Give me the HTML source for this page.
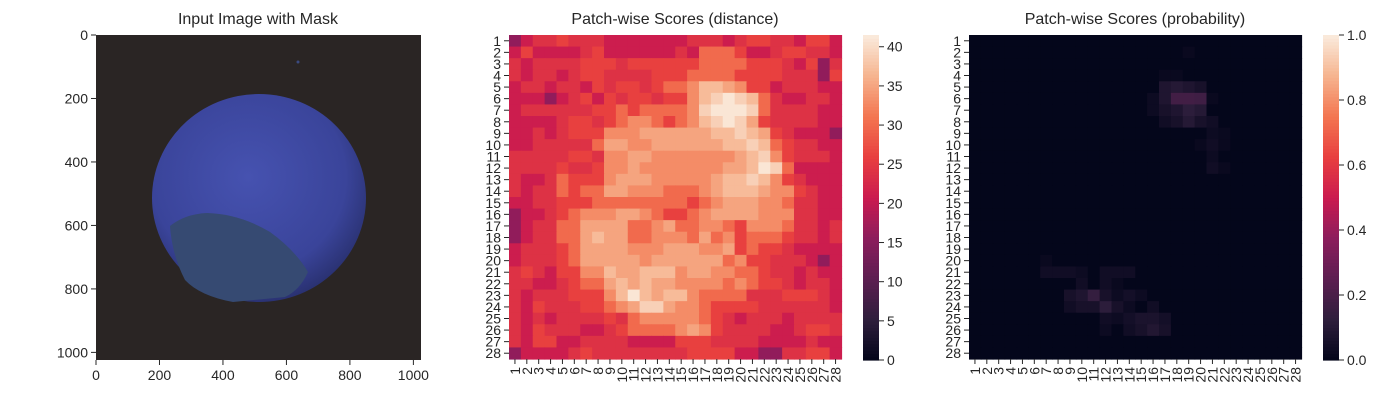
<!DOCTYPE html>
<html><head><meta charset="utf-8"><style>
body{margin:0;background:#fff;font-family:"Liberation Sans",sans-serif;}
svg text{font-family:"Liberation Sans",sans-serif;fill:#262626;}
</style></head><body>
<svg id="fig" width="1400" height="400" xmlns="http://www.w3.org/2000/svg">
<rect width="1400" height="400" fill="#fff"/>
<defs>
<radialGradient id="nutg" cx="0.45" cy="0.4" r="0.65">
<stop offset="0" stop-color="#4652b0"/><stop offset="0.7" stop-color="#3a449a"/><stop offset="1" stop-color="#262d68"/>
</radialGradient>
</defs>
<g id="p1">
<text x="258" y="24" font-size="16" text-anchor="middle">Input Image with Mask</text>
<rect x="96" y="35" width="325" height="325" fill="#2a2524"/>
<ellipse cx="259" cy="198" rx="107" ry="104" fill="url(#nutg)"/>
<path d="M170,226 Q185,214 207,213 Q240,214 270,232 Q295,250 308,272 Q300,290 285,297 L233,302 Q200,296 185,280 Q172,255 170,226 Z" fill="#364a72"/>
<ellipse cx="298" cy="62" rx="1.5" ry="1.5" fill="#3a4a80"/>
<g id="ax1"></g>
</g>
<g id="p2">
<text x="675" y="24" font-size="16" text-anchor="middle">Patch-wise Scores (distance)</text>
<g id="hm2"></g><g id="cb2"></g>
</g>
<g id="p3">
<text x="1135" y="24" font-size="16" text-anchor="middle">Patch-wise Scores (probability)</text>
<g id="hm3"></g><g id="cb3"></g>
</g>
</svg>
<script>
const imgTicks=[0,200,400,600,800,1000];
const distLevels=[16,21,24,26,30,33,35,37,39,41];
const distRows=[
"0122322211111112221233221331",
"1311112311111121444311233221",
"2122223332333333444433321302",
"2122123322223334444333322203",
"1221221323323445776533122211",
"1110123132332335789874211221",
"1222222334344445899984222211",
"1111233234554345789863222211",
"1121233355566666677876321110",
"1122222466556666667787432211",
"2222233255665555555678532221",
"2222322355655555556679841111",
"2112433356665555567787532111",
"2122434466555444567776553211",
"1122333444444443456665542211",
"0112345556654334566665552211",
"0122446666445644554355542212",
"0122446766445554645344432212",
"1222346666555666556343321111",
"1222346666656666664533222101",
"2321335576677756655443221211",
"2211234467676655554543321221",
"2122233357976775444422233321",
"2132223345688655433332222221",
"2121222232455555432122212222",
"2132221123444456532222112332",
"2133112222111133322221111211",
"0111123222222223333110022331"];
const distTicks=[0,5,10,15,20,25,30,35,40];
const distMax=41.5;
const probCells=[[2,19,0.02],[4,17,0.02],[4,18,0.02],[5,17,0.08],[5,18,0.1],[5,19,0.08],[5,20,0.06],[6,16,0.03],[6,17,0.08],[6,18,0.18],[6,19,0.18],[6,20,0.17],[6,21,0.02],[7,16,0.03],[7,17,0.06],[7,18,0.08],[7,19,0.12],[7,20,0.1],[8,17,0.04],[8,18,0.06],[8,19,0.1],[8,20,0.06],[8,21,0.04],[9,21,0.03],[9,22,0.02],[10,20,0.02],[10,21,0.04],[10,22,0.02],[11,21,0.03],[12,21,0.04],[12,22,0.02],[20,7,0.02],[21,7,0.04],[21,8,0.04],[21,9,0.04],[21,10,0.03],[21,12,0.04],[21,13,0.04],[21,14,0.04],[22,10,0.04],[22,12,0.04],[22,13,0.02],[23,9,0.06],[23,10,0.08],[23,11,0.14],[23,12,0.06],[23,13,0.03],[23,14,0.05],[23,15,0.03],[24,9,0.04],[24,10,0.06],[24,11,0.06],[24,12,0.12],[24,13,0.06],[24,14,0.03],[24,16,0.04],[25,12,0.04],[25,13,0.03],[25,14,0.05],[25,15,0.07],[25,16,0.07],[25,17,0.05],[26,12,0.03],[26,14,0.04],[26,15,0.06],[26,16,0.09],[26,17,0.06]];
const probTicks=[0,0.2,0.4,0.6,0.8,1.0];
const probLabels=["0.0","0.2","0.4","0.6","0.8","1.0"];
const labels28=Array.from({length:28},(_,i)=>String(i+1));

const NS="http://www.w3.org/2000/svg";
function mk(p,t,a){const e=document.createElementNS(NS,t);for(const k in a)e.setAttribute(k,a[k]);p.appendChild(e);return e;}
const stops=[[0,[3,5,26]],[0.125,[46,30,60]],[0.25,[92,30,81]],[0.375,[140,28,92]],[0.5,[203,27,79]],[0.625,[232,63,63]],[0.75,[243,118,81]],[0.875,[246,180,143]],[1,[250,235,221]]];
function rocket(t){t=Math.max(0,Math.min(1,t));for(let i=1;i<stops.length;i++){if(t<=stops[i][0]){const a=stops[i-1],b=stops[i],f=(t-a[0])/(b[0]-a[0]);const c=a[1].map((v,j)=>Math.round(v+(b[1][j]-v)*f));return `rgb(${c})`;}}return 'rgb(250,235,221)';}

const FS=14;
const ax1=document.getElementById('ax1');
const ix=v=>96+v*325/1024, iy=v=>35+v*325/1024;
imgTicks.forEach(v=>{
 let l=mk(ax1,'line',{x1:ix(v),x2:ix(v),y1:360,y2:365,stroke:'#262626'});
 
 let t=mk(ax1,'text',{x:ix(v),y:380,'text-anchor':'middle','font-size':FS});t.textContent=v;
 
 l=mk(ax1,'line',{x1:91,x2:96,y1:iy(v),y2:iy(v),stroke:'#262626'});
 
 t=mk(ax1,'text',{x:88,y:iy(v)+5,'text-anchor':'end','font-size':FS});t.textContent=v;
 
});

function heat(gid,x0,grid,colorFn){
 const g=document.getElementById(gid);const W=332.5,H=324,cw=W/28,ch=H/28,y0=35;
 for(let r=0;r<28;r++)for(let c=0;c<28;c++){
  const rc=mk(g,'rect',{x:x0+c*cw,y:y0+r*ch,width:cw+0.6,height:ch+0.6,fill:colorFn(grid[r][c])});
  
 }
 labels28.forEach((s,i)=>{
  const yc=y0+(i+0.5)*ch, xc=x0+(i+0.5)*cw;
  let l=mk(g,'line',{x1:x0-5,x2:x0,y1:yc,y2:yc,stroke:'#262626'});
  
  let t=mk(g,'text',{x:x0-8,y:yc+5,'text-anchor':'end','font-size':FS});t.textContent=s;
  
  l=mk(g,'line',{x1:xc,x2:xc,y1:y0+H,y2:y0+H+5,stroke:'#262626'});
  
  t=mk(g,'text',{x:0,y:0,'text-anchor':'end','font-size':FS,transform:`translate(${xc+5},${y0+H+8}) rotate(-90)`});t.textContent=s;
  
 });
}
function cbar(gid,x0,max,ticks,labs){
 const g=document.getElementById(gid);const y0=35,H=325,n=100;
 for(let i=0;i<n;i++){const r=mk(g,'rect',{x:x0,y:y0+H-(i+1)*H/n,width:16,height:H/n+0.6,fill:rocket((i+0.5)/n)});
  }
 ticks.forEach((v,i)=>{const y=y0+H-v/max*H;
  const l=mk(g,'line',{x1:x0+16,x2:x0+21,y1:y,y2:y,stroke:'#262626'});
  
  const t=mk(g,'text',{x:x0+24,y:y+5,'font-size':FS});t.textContent=labs[i];
  });
}
const distGrid=distRows.map(r=>r.split('').map(d=>distLevels[+d]));
heat('hm2',509,distGrid,v=>rocket(v/distMax));
cbar('cb2',863,distMax,distTicks,distTicks.map(String));
const probGrid=Array.from({length:28},()=>Array(28).fill(0.003));
probCells.forEach(([r,c,v])=>{probGrid[r-1][c-1]=v;});
heat('hm3',969,probGrid,v=>rocket(v));
cbar('cb3',1323,1,probTicks,probLabels);
</script>
</body></html>
